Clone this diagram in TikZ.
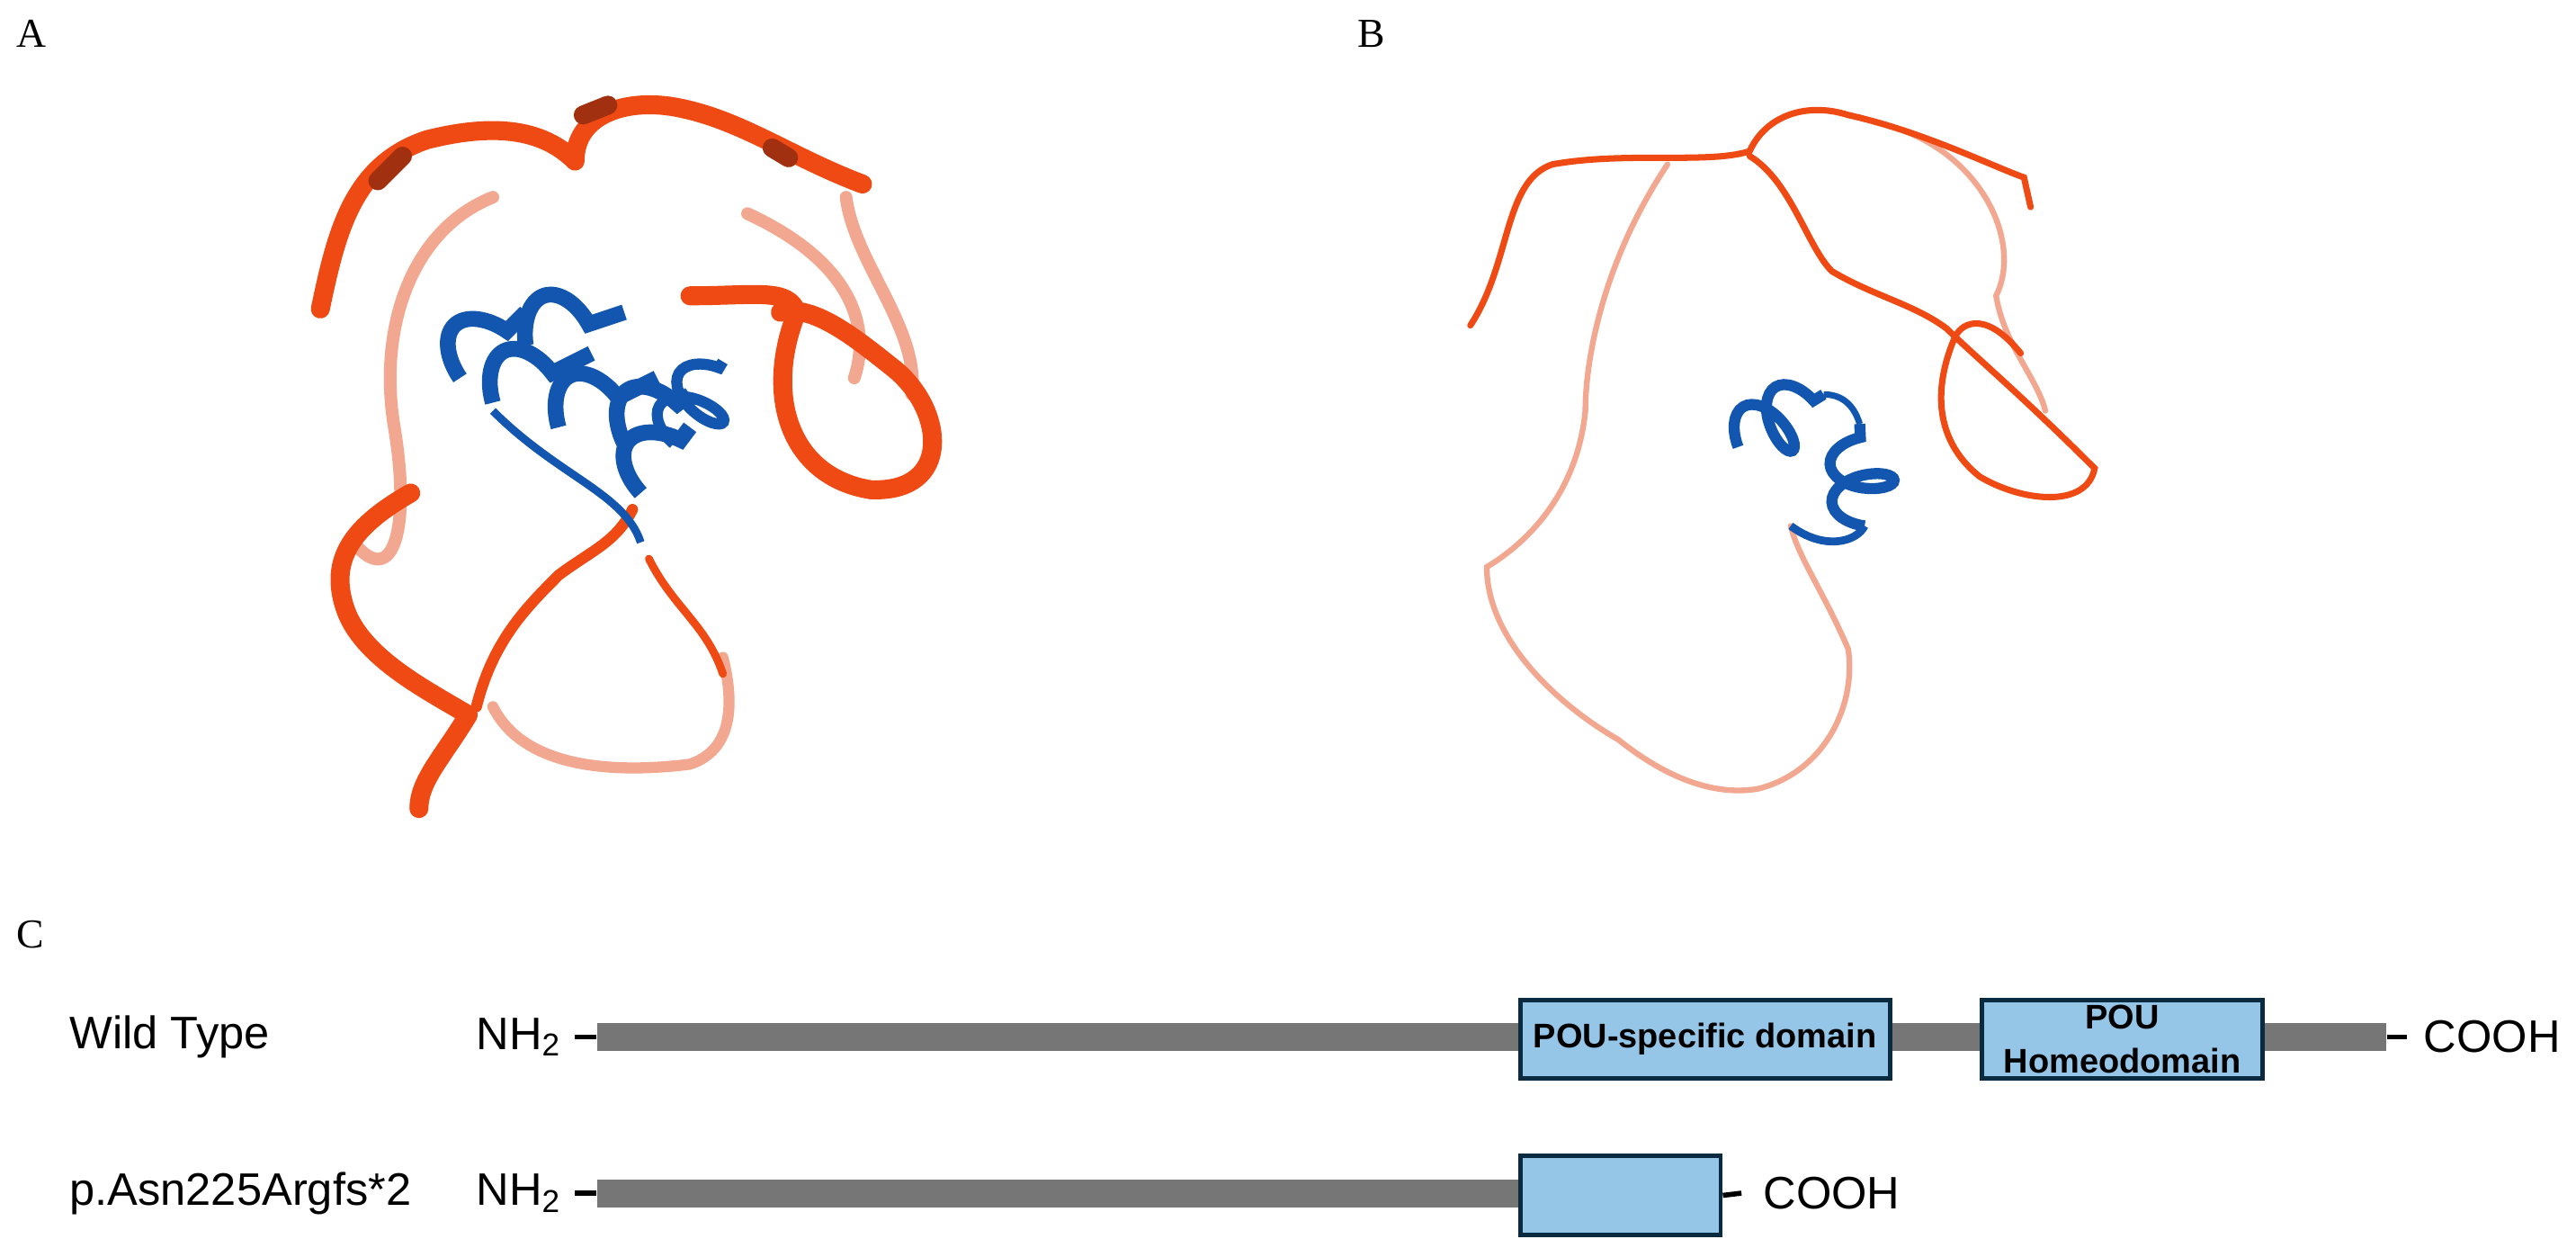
\documentclass[tikz,border=0pt]{standalone}
\usepackage{fontspec}
\setmainfont{Liberation Sans}
\newfontfamily\serifl{Liberation Serif}
\usetikzlibrary{decorations.pathmorphing}
\definecolor{bar}{HTML}{767676}
\definecolor{dom}{HTML}{95C6E8}
\definecolor{domb}{HTML}{0A2A40}
\definecolor{orng}{HTML}{F04A14}
\definecolor{dorng}{HTML}{A03010}
\definecolor{pink}{HTML}{F2A890}
\definecolor{hblue}{HTML}{1256B0}
\def\uu{0.01826cm}
\begin{document}
\begin{tikzpicture}[x=\uu,y=-\uu,
  panel/.style={font=\serifl\fontsize{13}{14}\selectfont,anchor=north west,inner sep=0},
  lab/.style={font=\fontsize{14.4}{16}\selectfont,inner sep=0},
  barst/.style={fill=bar,draw=none,inner sep=0,minimum height=17*\uu},
  domst/.style={fill=dom,draw=domb,line width=1.4pt,inner sep=0,minimum height=48*\uu,
     font=\bfseries\fontsize{10.8}{12}\selectfont,align=center},
  tick/.style={line width=1.6pt},
  rib/.style={orng,line width=6pt,line cap=round,line join=round},
  ribd/.style={dorng,line width=6pt,line cap=round},
  ribl/.style={pink,line width=4pt,line cap=round},
  thin/.style={orng,line width=2pt,line cap=round},
  thinl/.style={pink,line width=1.8pt,line cap=round},
  helix/.style={hblue,line width=5pt,decorate,decoration={coil,aspect=0.5,segment length=16pt,amplitude=13pt}},
  helixs/.style={hblue,line width=3.5pt,decorate,decoration={coil,aspect=0.5,segment length=12pt,amplitude=10pt}}]
\useasboundingbox (0,0) rectangle (1568,759);
\node[panel] (pa) at (10,12) {A};
\node[panel] (pb) at (826,12) {B};
\node[panel] (pc) at (10,560) {C};

% ---- Panel A structure
\draw[ribl] (300,120) .. controls (250,140) and (230,200) .. (240,260) .. controls (250,320) and (240,360) .. (215,330);
\draw[ribl] (455,130) .. controls (520,160) and (530,200) .. (520,230);
\draw[ribl] (515,120) .. controls (520,160) and (560,200) .. (555,240);
\draw[thinl,line width=3.5pt] (300,430) .. controls (320,470) and (380,470) .. (420,465) .. controls (450,455) and (445,420) .. (440,400);
\draw[rib] (195,188) .. controls (205,140) and (215,100) .. (260,85) .. controls (300,75) and (330,78) .. (350,98) .. controls (350,70) and (380,60) .. (410,65) .. controls (450,72) and (480,95) .. (525,112);
\draw[ribd] (230,110) -- (245,95) (355,70) -- (370,64) (470,90) -- (480,96);
\draw[rib] (420,180) .. controls (460,180) and (480,175) .. (485,190) .. controls (465,240) and (480,290) .. (530,298) .. controls (580,300) and (575,250) .. (545,225) .. controls (520,205) and (495,185) .. (475,190);
\draw[rib] (250,300) .. controls (215,320) and (200,340) .. (210,370) .. controls (220,400) and (260,420) .. (285,435) .. controls (270,460) and (255,475) .. (255,492);
\draw[thin,line width=3.5pt] (290,430) .. controls (300,390) and (320,370) .. (340,350) .. controls (360,335) and (375,330) .. (385,310);
\draw[thin,line width=2.5pt] (395,340) .. controls (410,370) and (430,380) .. (440,410);
\draw[helix] (280,230) -- (320,190);
\draw[helix] (320,210) -- (380,190);
\draw[helix] (300,245) -- (360,215);
\draw[helix] (340,260) -- (400,230);
\draw[helix] (380,270) -- (420,240);
\draw[helix] (390,300) -- (420,260);
\draw[helixs] (410,270) -- (440,220);
\draw[hblue,line width=2.5pt] (300,250) .. controls (340,290) and (380,300) .. (390,330);

% ---- Panel B structure
\draw[thinl] (1015,100) .. controls (975,160) and (965,220) .. (965,250) .. controls (960,300) and (930,330) .. (905,345) .. controls (905,390) and (950,430) .. (985,450) .. controls (1010,470) and (1040,485) .. (1070,480) .. controls (1110,470) and (1130,430) .. (1125,395) .. controls (1110,360) and (1095,340) .. (1090,320);
\draw[thinl] (1160,80) .. controls (1210,100) and (1230,150) .. (1215,180) .. controls (1220,210) and (1240,230) .. (1245,250);
\draw[thin] (895,198) .. controls (920,160) and (915,110) .. (945,100) .. controls (990,92) and (1040,100) .. (1065,92) .. controls (1075,70) and (1100,62) .. (1125,70) .. controls (1170,80) and (1210,100) .. (1232,108) -- (1236,126);
\draw[thin] (1065,95) .. controls (1090,110) and (1100,150) .. (1115,165) .. controls (1140,180) and (1165,185) .. (1185,200) .. controls (1200,215) and (1230,240) .. (1275,285) .. controls (1270,310) and (1230,305) .. (1205,290) .. controls (1180,270) and (1175,240) .. (1190,205) .. controls (1195,195) and (1210,190) .. (1230,215);
\draw[hblue,line width=2.5pt] (1090,320) .. controls (1110,335) and (1130,330) .. (1135,320);
\draw[helixs] (1135,320) -- (1132,258);
\draw[helixs] (1058,272) -- (1110,240);
\draw[hblue,line width=2pt] (1110,240) .. controls (1120,240) and (1128,245) .. (1132,258);

% ---- Panel C
\node[lab,anchor=west] (wt) at (42,631) {Wild Type};
\node[lab,anchor=west] (mt) at (42,726) {p.Asn225Argfs*2};
\node[barst,anchor=west,minimum width=1089*\uu] (wbar) at (363,631) {};
\node[domst,anchor=north west,minimum width=225*\uu] (pous) at (924,607) {POU-specific domain};
\node[domst,anchor=north west,minimum width=171*\uu] (pouh) at (1205,607) {POU\\[2pt]Homeodomain};
\node[lab,anchor=east] (nh1) at (342,631) {NH\textsubscript{2}};
\node[lab,anchor=west] (co1) at (1475,631) {COOH};
\coordinate (t1a) at (350,631); \coordinate (t1b) at (1465,631);
\draw[tick] (t1a) -- (wbar.west);
\draw[tick] (wbar.east) -- (t1b);

\node[barst,anchor=west,minimum width=561*\uu] (mbar) at (363,726) {};
\node[domst,anchor=north west,minimum width=122*\uu] (mdom) at (924,702) {};
\node[lab,anchor=east] (nh2) at (342,726) {NH\textsubscript{2}};
\node[lab,anchor=west] (co2) at (1073,726) {COOH};
\coordinate (t2a) at (350,726); \coordinate (t2b) at (1060,726);
\draw[tick] (t2a) -- (mbar.west);
\draw[tick] (mdom.east) -- (t2b);
\end{tikzpicture}
\end{document}
